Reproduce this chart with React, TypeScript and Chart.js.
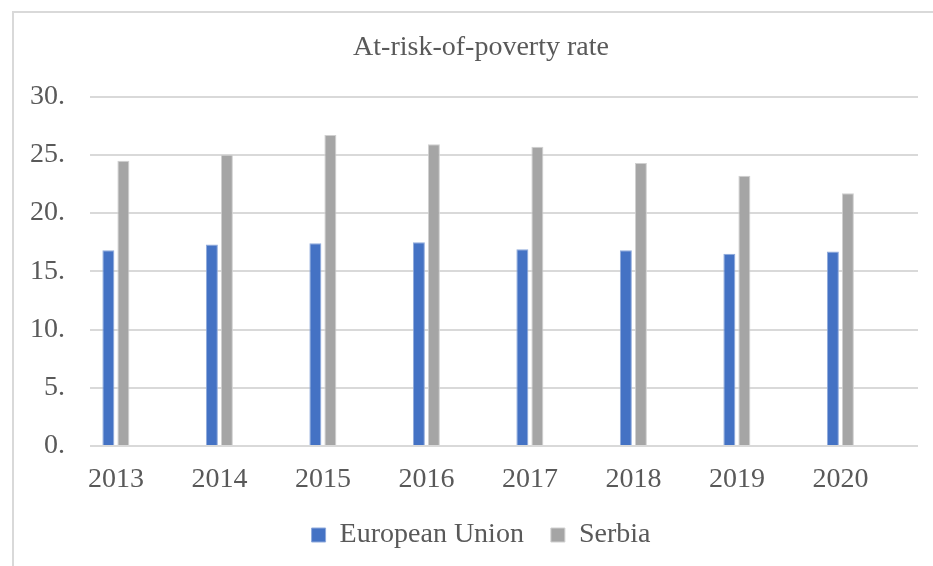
import React, { useEffect, useRef } from "react";
import { Chart, registerables } from "chart.js";

Chart.register(...registerables);

const TITLE = "At-risk-of-poverty rate";
const YEARS = ["2013", "2014", "2015", "2016", "2017", "2018", "2019", "2020"];
const SERIES_NAMES = ["European Union", "Serbia"];
const EU_VALUES = [16.8, 17.3, 17.4, 17.5, 16.9, 16.8, 16.5, 16.7];
const SERBIA_VALUES = [24.5, 25.0, 26.7, 25.9, 25.7, 24.3, 23.2, 21.7];
const Y_MIN = 0;
const Y_MAX = 30;
const Y_STEP = 5;

const FONT = "'Liberation Serif', 'Times New Roman', serif";
const TEXT = "#595959";
const GRID = "#d9d9d9";

export default function App() {
  const ref = useRef<HTMLCanvasElement | null>(null);

  useEffect(() => {
    if (!ref.current) return;
    const chart = new Chart(ref.current, {
      type: "bar",
      data: {
        datasets: [
          {
            label: SERIES_NAMES[0],
            data: YEARS.map((_, i) => ({ x: i, y: EU_VALUES[i] })),
            backgroundColor: "#4472c4",
            borderColor: "#8faadc",
            borderWidth: 1,
            categoryPercentage: 0.29,
            barPercentage: 0.8,
          },
          {
            label: SERIES_NAMES[1],
            data: YEARS.map((_, i) => ({ x: i, y: SERBIA_VALUES[i] })),
            backgroundColor: "#a5a5a5",
            borderColor: "#d0d0d0",
            borderWidth: 1,
            categoryPercentage: 0.29,
            barPercentage: 0.8,
          },
        ] as any,
      },
      options: {
        animation: false,
        responsive: true,
        maintainAspectRatio: false,
        layout: { padding: { left: 0, right: 0, top: 0, bottom: 30 } },
        plugins: {
          title: {
            display: true,
            text: TITLE,
            color: TEXT,
            font: { family: FONT, size: 28, weight: "normal" },
            padding: { top: 18, bottom: 32 },
          },
          legend: {
            position: "bottom",
            labels: {
              boxWidth: 14,
              boxHeight: 14,
              padding: 27,
              color: TEXT,
              font: { family: FONT, size: 28 },
            },
          },
          tooltip: { enabled: false },
        },
        scales: {
          x: {
            type: "linear",
            offset: false,
            min: -0.25,
            max: YEARS.length - 0.25,
            grid: { display: false, drawTicks: false },
            border: { display: false },
            afterBuildTicks: (s: any) => {
              s.ticks = YEARS.map((_, i) => ({ value: i }));
            },
            afterFit: (s: any) => {
              s.height = 48;
            },
            ticks: {
              autoSkip: false,
              maxRotation: 0,
              minRotation: 0,
              padding: 20,
              color: TEXT,
              font: { family: FONT, size: 28, lineHeight: 1 },
              callback: (v: any) => YEARS[v as number] ?? "",
            },
          },
          y: {
            type: "linear",
            min: Y_MIN,
            max: Y_MAX,
            afterFit: (s: any) => {
              s.width = 76;
            },
            grid: { color: GRID, lineWidth: 2, drawTicks: false },
            border: { display: false },
            ticks: {
              stepSize: Y_STEP,
              padding: 25,
              color: TEXT,
              font: { family: FONT, size: 28 },
              callback: (v: any) => `${v}.`,
            },
          },
          y2: {
            type: "linear",
            position: "right",
            display: true,
            grid: { display: false, drawTicks: false },
            border: { display: false },
            ticks: { display: false },
            afterFit: (s: any) => {
              s.width = 30;
            },
          },
        },
      } as any,
    });
    return () => chart.destroy();
  }, []);

  return (
    <div
      style={{
        position: "fixed",
        left: 0,
        top: 0,
        width: 933,
        height: 566,
        overflow: "hidden",
        background: "#ffffff",
      }}
    >
      <div
        style={{
          position: "absolute",
          left: 12,
          top: 11,
          width: 938,
          height: 580,
          border: `2px solid ${GRID}`,
          boxSizing: "border-box",
        }}
      >
        <div style={{ position: "relative", width: 934, height: 576 }}>
          <canvas ref={ref} />
        </div>
      </div>
    </div>
  );
}
